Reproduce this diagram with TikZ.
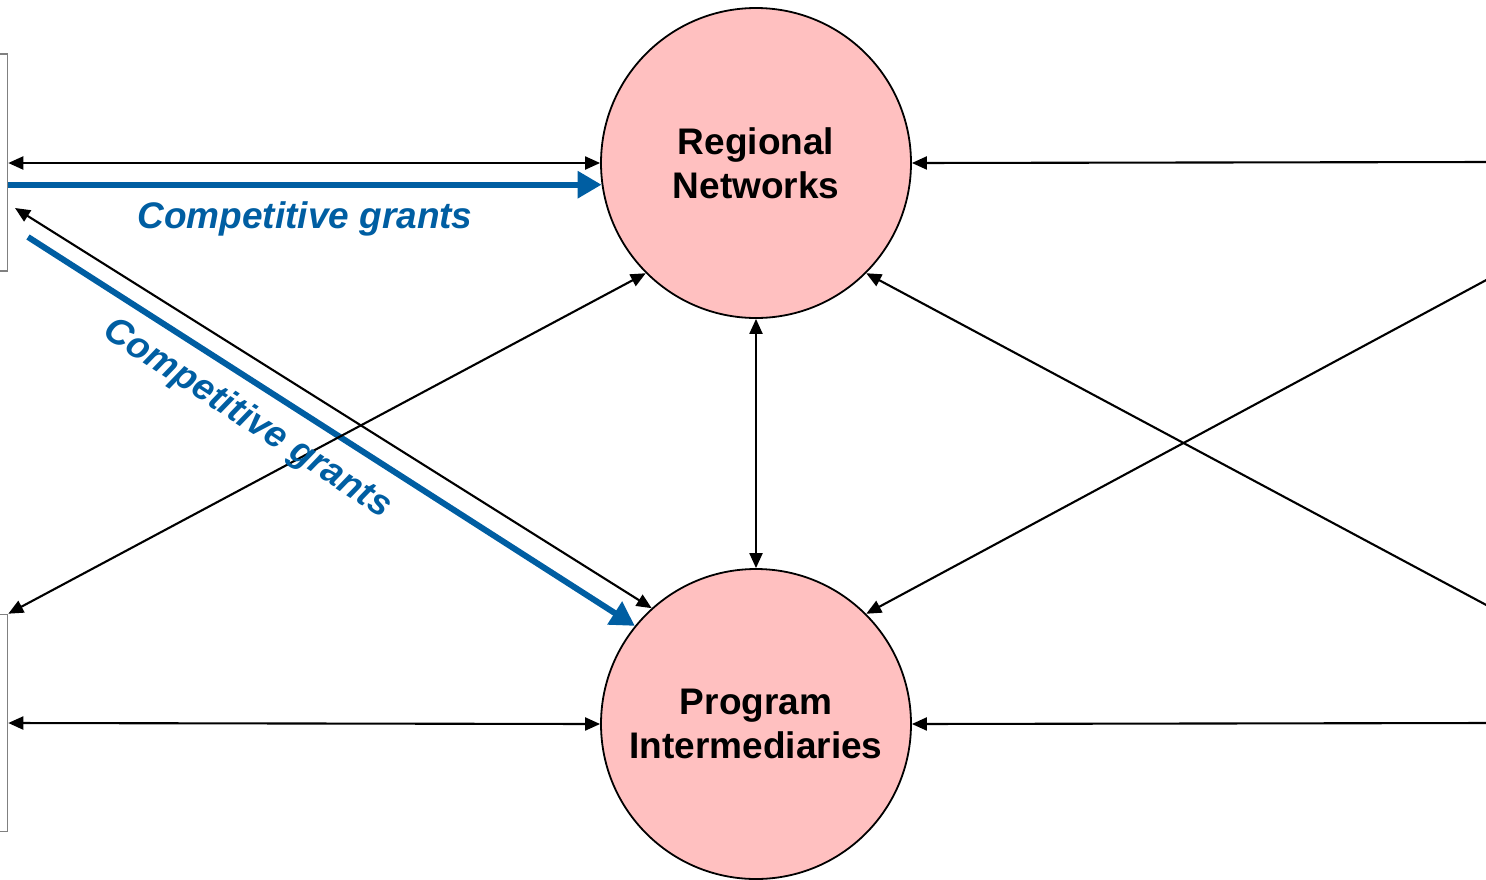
\documentclass[tikz,border=0pt]{standalone}
\usepackage{fontspec}
\setmainfont{Liberation Sans}
\usetikzlibrary{arrows.meta}
\definecolor{pinkfill}{RGB}{255,192,192}
\definecolor{grantblue}{RGB}{0,94,162}
\begin{document}
\begin{tikzpicture}[x=1pt,y=-1pt,
  hub/.style={circle,draw=black,line width=1.8pt,fill=pinkfill,minimum size=310pt,inner sep=0pt,
    align=center,font=\fontsize{37}{44}\selectfont\bfseries},
  sidebox/.style={draw=gray,line width=1.6pt,minimum width=107.5pt,minimum height=217pt,inner sep=0pt},
  dbl/.style={line width=2.1pt,{Triangle[length=15pt,width=13pt]}-{Triangle[length=15pt,width=13pt]}},
  single/.style={line width=2.1pt,-{Triangle[length=15pt,width=13pt]}},
  bluearr/.style={draw=grantblue,line width=6pt,-{Triangle[length=24pt,width=26pt]}},
  grantlbl/.style={text=grantblue,font=\fontsize{37}{44}\selectfont\bfseries\itshape,inner sep=0pt}]
\useasboundingbox (0,0) rectangle (1486,879);
\node[sidebox] (box1) at (-46.25,162.5) {};
\node[sidebox] (box2) at (-46.25,723) {};
\node[hub] (RN) at (756,163) {Regional\\Networks};
\node[hub] (PI) at (756,724) {Program\\Intermediaries};
\coordinate (d1) at (15,208);
\coordinate (d2) at (28,237);
\coordinate (r1) at (1490,162);
\coordinate (r2) at (1490,278);
\coordinate (r3) at (1490,607);
\coordinate (r4) at (1490,723);
% left side
\draw[dbl] (box1.east |- RN.west) -- (RN.west);
\draw[bluearr] (box1.east |- RN.188) -- (RN.188);
\draw[dbl] (d1) -- (PI.132);
\draw[bluearr] (d2) -- (PI.141);
\draw[dbl] (RN.225) -- (box2.north east);
\draw[dbl] (box2.east) -- (PI.west);
% middle
\draw[dbl] (RN.south) -- (PI.north);
% right side
\draw[single] (r1) -- (RN.east);
\draw[single] (r2) -- (PI.45);
\draw[single] (r3) -- (RN.-45);
\draw[single] (r4) -- (PI.east);
% labels
\node[grantlbl] (g1) at (305,219) {Competitive grants};
\node[grantlbl,rotate=-33] (g2) at (247,419) {Competitive grants};
\end{tikzpicture}
\end{document}
